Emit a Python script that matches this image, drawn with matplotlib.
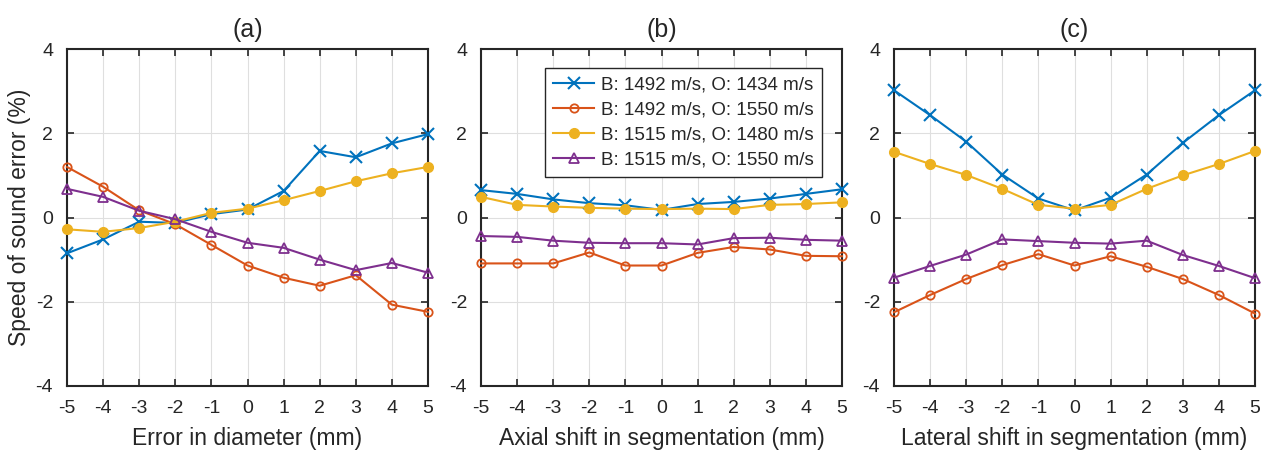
import numpy as np
import matplotlib
matplotlib.use("Agg")
import matplotlib.pyplot as plt

plt.rcParams['font.family'] = ['Liberation Sans', 'DejaVu Sans']
plt.rcParams['axes.unicode_minus'] = False

shift = [-5, -4, -3, -2, -1, 0, 1, 2, 3, 4, 5]
series_labels = ["B: 1492 m/s, O: 1434 m/s", "B: 1492 m/s, O: 1550 m/s",
                 "B: 1515 m/s, O: 1480 m/s", "B: 1515 m/s, O: 1550 m/s"]

# (a) error in diameter
a_1434 = [-0.85, -0.52, -0.10, -0.13, 0.08, 0.19, 0.63, 1.58, 1.43, 1.76, 1.98]
a_1550 = [1.20, 0.73, 0.17, -0.16, -0.65, -1.14, -1.43, -1.62, -1.37, -2.07, -2.24]
a_1480 = [-0.28, -0.34, -0.25, -0.10, 0.11, 0.21, 0.41, 0.63, 0.86, 1.05, 1.20]
a_1550b = [0.68, 0.49, 0.16, -0.04, -0.34, -0.60, -0.72, -1.00, -1.25, -1.08, -1.31]

# (b) axial shift
b_1434 = [0.65, 0.56, 0.43, 0.34, 0.29, 0.18, 0.32, 0.37, 0.45, 0.56, 0.67]
b_1550 = [-1.09, -1.09, -1.09, -0.83, -1.14, -1.14, -0.84, -0.70, -0.76, -0.91, -0.92]
b_1480 = [0.49, 0.30, 0.26, 0.23, 0.21, 0.20, 0.21, 0.20, 0.30, 0.32, 0.36]
b_1550b = [-0.44, -0.46, -0.55, -0.60, -0.61, -0.61, -0.64, -0.49, -0.48, -0.53, -0.55]

# (c) lateral shift
c_1434 = [3.02, 2.43, 1.80, 1.02, 0.45, 0.17, 0.47, 1.02, 1.77, 2.43, 3.02]
c_1550 = [-2.25, -1.84, -1.46, -1.13, -0.87, -1.14, -0.92, -1.17, -1.46, -1.84, -2.28]
c_1480 = [1.56, 1.27, 1.01, 0.68, 0.30, 0.21, 0.30, 0.68, 1.00, 1.27, 1.58]
c_1550b = [-1.43, -1.15, -0.88, -0.52, -0.56, -0.60, -0.62, -0.55, -0.89, -1.15, -1.44]

panels = [
    ("(a)", "Error in diameter (mm)", [a_1434, a_1550, a_1480, a_1550b]),
    ("(b)", "Axial shift in segmentation (mm)", [b_1434, b_1550, b_1480, b_1550b]),
    ("(c)", "Lateral shift in segmentation (mm)", [c_1434, c_1550, c_1480, c_1550b]),
]

colors = ["#0072BD", "#D95319", "#EDB120", "#7E2F8E"]
markers = ["x", "o", "o", "^"]
msizes = [9, 6, 7, 7]
mews = [1.5, 1.3, 1.0, 1.3]
faces = ["none", "none", "#EDB120", "none"]

fig = plt.figure(figsize=(12.7, 4.57), dpi=100)
lefts = [67, 481, 894]
txt = "#262626"

for i, (title, xlabel, data) in enumerate(panels):
    ax = fig.add_axes([lefts[i] / 1270, 71 / 457, 361 / 1270, 337 / 457])
    for k, y in enumerate(data):
        ax.plot(shift, y, color=colors[k], linewidth=1.5, marker=markers[k],
                markersize=msizes[k], markeredgewidth=mews[k],
                markerfacecolor=faces[k], markeredgecolor=colors[k],
                label=series_labels[k], clip_on=False, zorder=3)
    ax.set_xlim(-5, 5)
    ax.set_ylim(-4, 4)
    ax.set_xticks(shift)
    ax.set_xticklabels([str(v) for v in shift])
    ax.set_yticks([-4, -2, 0, 2, 4])
    ax.grid(True, color="#dfdfdf", linewidth=0.8)
    ax.set_axisbelow(True)
    ax.tick_params(direction="in", top=True, right=True, length=5, width=1.2,
                   labelsize=14, colors=txt, pad=10)
    for sp in ax.spines.values():
        sp.set_linewidth(1.5)
        sp.set_color(txt)
    ax.set_title(title, fontsize=18, color=txt, pad=9)
    ax.set_xlabel(xlabel, fontsize=16.5, color=txt, labelpad=7)
    if i == 0:
        ax.set_ylabel("Speed of sound error (%)", fontsize=16.5, color=txt, labelpad=3)
    if i == 1:
        leg = ax.legend(loc="upper right", bbox_to_anchor=(0.945, 0.945), fontsize=13.5,
                        fancybox=False, edgecolor=txt, framealpha=1, handlelength=2.2,
                        borderpad=0.45, labelspacing=0.42, handletextpad=0.35,
                        borderaxespad=0)
        leg.get_frame().set_linewidth(1.0)
        for t in leg.get_texts():
            t.set_color(txt)

fig.savefig("out.png", dpi=100)
